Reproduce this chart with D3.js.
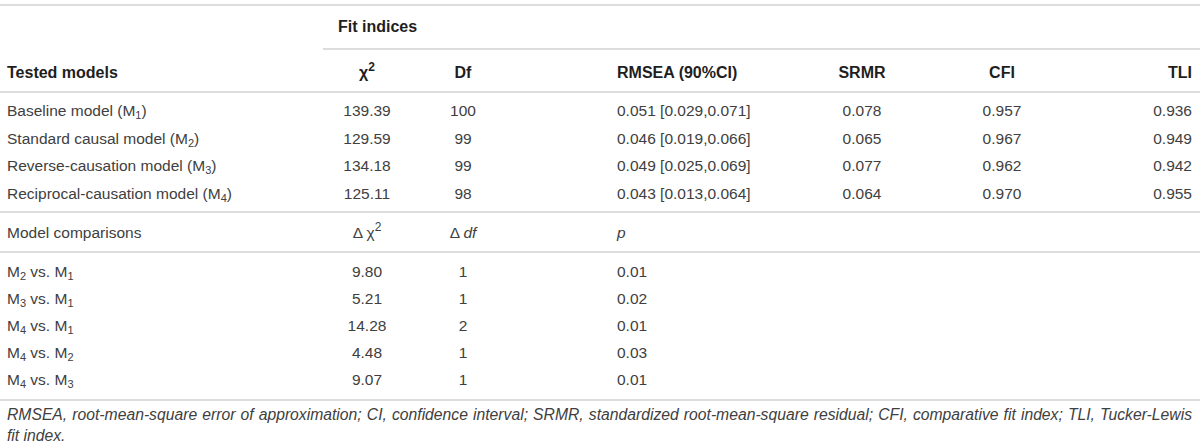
<!DOCTYPE html>
<html><head><meta charset="utf-8">
<script src="https://cdn.jsdelivr.net/npm/d3@7"></script>
<style>
html,body{margin:0;padding:0;background:#fff;}
svg{display:block;font-family:"Liberation Sans",Arial,Helvetica,sans-serif;}
</style></head>
<body><svg id="c" width="1200" height="448"></svg>
<script>
// ---- data ----
const modelNames = ["Baseline model", "Standard causal model", "Reverse-causation model", "Reciprocal-causation model"];
const modelSubs = ["1", "2", "3", "4"];
const chi2 = ["139.39", "129.59", "134.18", "125.11"];
const dfs = ["100", "99", "99", "98"];
const rmsea = ["0.051 [0.029,0.071]", "0.046 [0.019,0.066]", "0.049 [0.025,0.069]", "0.043 [0.013,0.064]"];
const srmr = ["0.078", "0.065", "0.077", "0.064"];
const cfi = ["0.957", "0.967", "0.962", "0.970"];
const tli = ["0.936", "0.949", "0.942", "0.955"];
const compA = ["2", "3", "4", "4", "4"];
const compB = ["1", "1", "1", "2", "3"];
const dChi2 = ["9.80", "5.21", "14.28", "4.48", "9.07"];
const dDf = ["1", "1", "2", "1", "1"];
const pVals = ["0.01", "0.02", "0.01", "0.03", "0.01"];
const footnote = "RMSEA, root-mean-square error of approximation; CI, confidence interval; SRMR, standardized root-mean-square residual; CFI, comparative fit index; TLI, Tucker-Lewis";
const footnote2 = "fit index.";

// ---- layout ----
const svg = d3.select("#c");
const W = 1200, L = 7, R = 1192;
const colX = {name: L, chi: 367, df: 463, rmsea: 617, srmr: 862, cfi: 1002, tli: R};
const yTop = d3.scaleLinear().domain([0, modelNames.length - 1]).range([116, 198.5]);
const yBot = d3.scaleLinear().domain([0, compA.length - 1]).range([277, 385]);
const bodyCol = "#404040", headCol = "#1e1e1e", ruleCol = "#d2d2d2";
const fs = 15.5, hfs = 16, subFs = 11;

function rule(y, x1, x2) {
  svg.append("line").attr("x1", x1).attr("x2", x2).attr("y1", y).attr("y2", y)
    .attr("stroke", ruleCol).attr("stroke-width", 1.6);
}
rule(5, 0, W);
rule(49, 323, W);
rule(92, 0, W);
rule(212, 0, W);
rule(252, 0, W);
rule(400, 0, W);

function txt(x, y, anchor, opts = {}) {
  return svg.append("text").attr("x", x).attr("y", y).attr("text-anchor", anchor)
    .attr("font-size", opts.size || (opts.bold ? hfs : fs))
    .attr("font-weight", opts.bold ? "bold" : "normal")
    .attr("font-style", opts.italic ? "italic" : "normal")
    .attr("fill", opts.bold ? headCol : bodyCol);
}

// header
txt(338, 32, "start", {bold: true}).text("Fit indices");
const hy = 78;
txt(colX.name, hy, "start", {bold: true}).text("Tested models");
const chiH = txt(colX.chi, hy, "middle", {bold: true});
chiH.append("tspan").text("χ");
chiH.append("tspan").attr("dy", -7).attr("font-size", 12).text("2");
txt(colX.df, hy, "middle", {bold: true}).text("Df");
txt(colX.rmsea, hy, "start", {bold: true}).text("RMSEA (90%CI)");
txt(colX.srmr, hy, "middle", {bold: true}).text("SRMR");
txt(colX.cfi, hy, "middle", {bold: true}).text("CFI");
txt(colX.tli, hy, "end", {bold: true}).text("TLI");

// model rows
modelNames.forEach((m, i) => {
  const y = yTop(i);
  const t = txt(colX.name, y, "start");
  t.append("tspan").text(m + " (M");
  t.append("tspan").attr("dy", 3).attr("font-size", subFs).text(modelSubs[i]);
  t.append("tspan").attr("dy", -3).text(")");
  txt(colX.chi, y, "middle").text(chi2[i]);
  txt(colX.df, y, "middle").text(dfs[i]);
  txt(colX.rmsea, y, "start").text(rmsea[i]);
  txt(colX.srmr, y, "middle").text(srmr[i]);
  txt(colX.cfi, y, "middle").text(cfi[i]);
  txt(colX.tli, y, "end").text(tli[i]);
});

// comparison header
const cy = 238;
txt(colX.name, cy, "start").text("Model comparisons");
const dc = txt(colX.chi, cy, "middle");
dc.append("tspan").text("Δ χ");
dc.append("tspan").attr("dy", -7).attr("font-size", 12).text("2");
const dd = txt(colX.df, cy, "middle");
dd.append("tspan").text("Δ ");
dd.append("tspan").attr("font-style", "italic").text("df");
txt(colX.rmsea, cy, "start", {italic: true}).text("p");

// comparison rows
compA.forEach((a, i) => {
  const y = yBot(i);
  const t = txt(colX.name, y, "start");
  t.append("tspan").text("M");
  t.append("tspan").attr("dy", 3).attr("font-size", subFs).text(a);
  t.append("tspan").attr("dy", -3).text(" vs. M");
  t.append("tspan").attr("dy", 3).attr("font-size", subFs).text(compB[i]);
  txt(colX.chi, y, "middle").text(dChi2[i]);
  txt(colX.df, y, "middle").text(dDf[i]);
  txt(colX.rmsea, y, "start").text(pVals[i]);
});

// footnote (justified first line)
const f1 = txt(L, 420, "start", {italic: true, size: 14}).text(footnote);
const nat0 = f1.node().getComputedTextLength();
const fSize = Math.min(16, 14 * (R - L - 12) / nat0);
f1.attr("font-size", fSize);
const nat = f1.node().getComputedTextLength();
const spaces = (footnote.match(/ /g) || []).length;
f1.attr("word-spacing", Math.max(0, (R - L - nat) / spaces));
txt(L, 441, "start", {italic: true, size: fSize}).text(footnote2);
</script>
</body></html>
